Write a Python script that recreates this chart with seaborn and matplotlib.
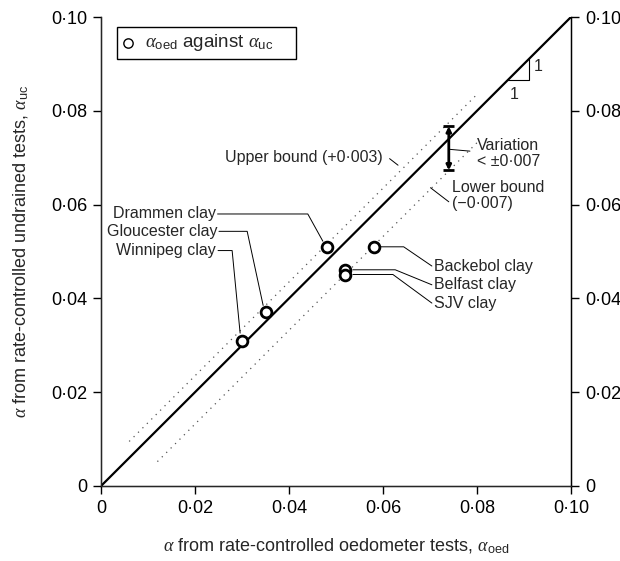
import numpy as np
import pandas as pd
import matplotlib
matplotlib.use("Agg")
import matplotlib.pyplot as plt
import seaborn as sns

# ---- data ----
clays = ["Winnipeg clay", "Gloucester clay", "Drammen clay",
         "Backebol clay", "Belfast clay", "SJV clay"]
alpha_oed = [0.030, 0.035, 0.048, 0.058, 0.052, 0.052]
alpha_uc = [0.031, 0.037, 0.051, 0.051, 0.046, 0.045]
tick_vals = [0, 0.02, 0.04, 0.06, 0.08, 0.10]
tick_labels = ["0", "0·02", "0·04", "0·06", "0·08", "0·10"]
upper_offset = 0.0035
lower_offset = -0.0068
upper_range = [0.006, 0.080]
lower_range = [0.012, 0.080]
var_x = 0.074
var_lo, var_hi = 0.0673, 0.0767

df = pd.DataFrame({"clay": clays, "oed": alpha_oed, "uc": alpha_uc})

sns.set_style("ticks")
plt.rcParams["font.family"] = ["Liberation Sans", "DejaVu Sans"]
plt.rcParams["mathtext.fontset"] = "custom"
plt.rcParams["mathtext.it"] = "Liberation Serif:italic"
plt.rcParams["mathtext.rm"] = "Liberation Sans"
plt.rcParams["mathtext.sf"] = "Liberation Sans"

fig = plt.figure(figsize=(6.2, 5.61), dpi=100)
ax = fig.add_axes([101/620, 1-486/561, 470/620, 469/561])

# 1:1 line
ax.plot([0, 0.1], [0, 0.1], color="black", lw=1.6, zorder=2)
# bounds
ux = np.array(upper_range)
lx = np.array(lower_range)
ax.plot(ux, ux + upper_offset, color="#555555", lw=0.9, ls=(0, (1, 4)), zorder=1)
ax.plot(lx, lx + lower_offset, color="#555555", lw=0.9, ls=(0, (1, 4)), zorder=1)

sns.scatterplot(data=df, x="oed", y="uc", ax=ax, marker="o", s=60,
                facecolor="white", edgecolor="black", linewidth=2,
                label=r"$\alpha_{\rm oed}$ against $\alpha_{\rm uc}$    ", zorder=5)

ax.set_xlim(0, 0.1)
ax.set_ylim(0, 0.1)
ax.set_xticks(tick_vals)
ax.set_xticklabels(tick_labels)
ax.set_yticks(tick_vals)
ax.set_yticklabels(tick_labels)
ax.tick_params(direction="out", length=6, width=1, labelsize=13, colors="black", pad=4)
for s in ["left", "bottom", "right"]:
    ax.spines[s].set_visible(True)
    ax.spines[s].set_color("black")
    ax.spines[s].set_linewidth(1.0)
ax.spines["top"].set_visible(False)

ax2 = ax.twinx()
ax2.set_ylim(0, 0.1)
ax2.set_yticks(tick_vals)
ax2.set_yticklabels(tick_labels)
ax2.tick_params(direction="out", length=6, width=1, labelsize=13, colors="black", pad=4)
ax2.spines["top"].set_visible(False)
ax2.spines["right"].set_color("black")

ax.set_xlabel(r"$\alpha$ from rate-controlled oedometer tests, $\alpha_{\rm oed}$",
              fontsize=13, labelpad=14)
ax.set_ylabel(r"$\alpha$ from rate-controlled undrained tests, $\alpha_{\rm uc}$",
              fontsize=13, labelpad=14)

leg = ax.legend(loc="upper left", bbox_to_anchor=(0.034, 0.979), borderaxespad=0,
                fancybox=False, framealpha=1, edgecolor="black", fontsize=13.5,
                handletextpad=0.6, borderpad=0.3, handlelength=0.6)
leg.get_frame().set_linewidth(1.0)
for h in leg.legend_handles:
    h.set_linewidth(1.0)
    h.set_sizes([45])

fs = 11.5
lw_lead = 0.7
# left-side labels
left_labels = [
    ("Drammen clay", (0.0244, 0.0580), (0.0440, 0.0580), (0.0472, 0.0522)),
    ("Gloucester clay", (0.0247, 0.0543), (0.0311, 0.0543), (0.0345, 0.0385)),
    ("Winnipeg clay", (0.0245, 0.0502), (0.0279, 0.0502), (0.0296, 0.0326)),
]
for txt, tp, el, ep in left_labels:
    ax.text(tp[0], tp[1], txt, ha="right", va="center", fontsize=fs)
    ax.plot([tp[0] + 0.0004, el[0], ep[0]], [tp[1], el[1], ep[1]], color="black", lw=lw_lead)

right_labels = [
    ("Backebol clay", (0.0708, 0.0469), (0.0644, 0.0510), (0.0592, 0.0510)),
    ("Belfast clay", (0.0708, 0.0429), (0.0626, 0.0461), (0.0536, 0.0461)),
    ("SJV clay", (0.0708, 0.0390), (0.0621, 0.0451), (0.0536, 0.0451)),
]
for txt, tp, el, ep in right_labels:
    ax.text(tp[0], tp[1], txt, ha="left", va="center", fontsize=fs)
    ax.plot([tp[0] - 0.0004, el[0], ep[0]], [tp[1], el[1], ep[1]], color="black", lw=lw_lead)

# bounds labels
ax.text(0.0600, 0.0701, "Upper bound (+0·003)", ha="right", va="center", fontsize=fs)
ax.plot([0.0614, 0.0632], [0.0698, 0.0684], color="black", lw=lw_lead)
ax.text(0.0747, 0.0620, "Lower bound\n(−0·007)", ha="left", va="center", fontsize=fs,
        linespacing=1.05)
ax.plot([0.0701, 0.0740], [0.0636, 0.0606], color="black", lw=lw_lead)
ax.text(0.0800, 0.0709, "Variation\n< ±0·007", ha="left", va="center", fontsize=fs,
        linespacing=1.05)
ax.plot([var_x, 0.0785], [0.0718, 0.0714], color="black", lw=lw_lead)

# variation bar
ax.annotate("", xy=(var_x, var_hi), xytext=(var_x, var_lo),
            arrowprops=dict(arrowstyle="<|-|>", lw=2, color="black", mutation_scale=7,
                            shrinkA=0, shrinkB=0), zorder=6)
ax.hlines([var_lo, var_hi], var_x - 0.0012, var_x + 0.0012, color="black", lw=2, zorder=6)

# slope triangle
ax.plot([0.0865, 0.0910, 0.0910], [0.0865, 0.0865, 0.0910], color="black", lw=0.8)
ax.text(0.0920, 0.0895, "1", ha="left", va="center", fontsize=fs)
ax.text(0.0880, 0.0835, "1", ha="center", va="center", fontsize=fs)

fig.savefig("out.png", dpi=100)
